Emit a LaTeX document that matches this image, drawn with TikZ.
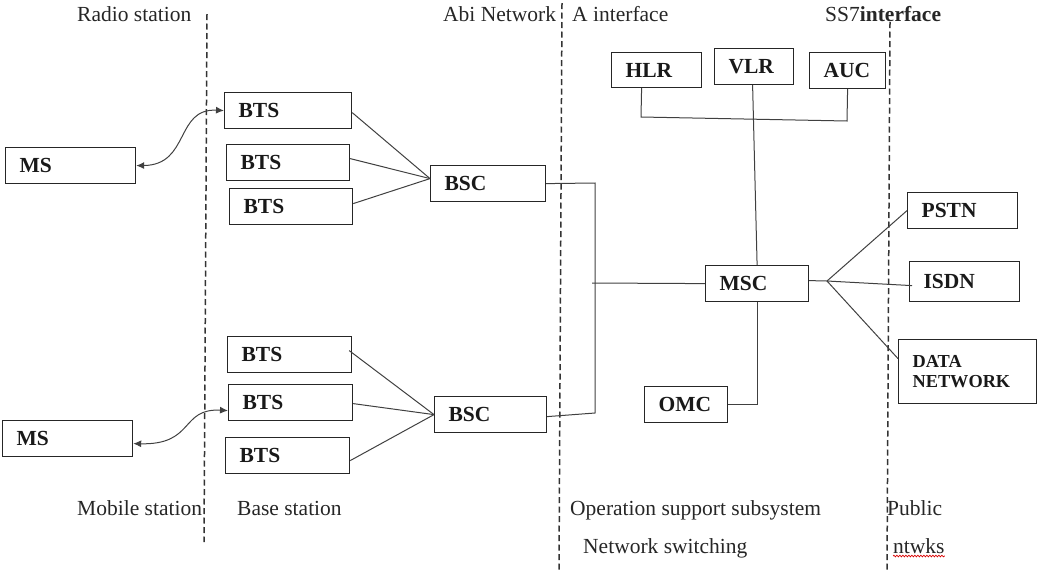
\documentclass[tikz,border=0pt]{standalone}
\usepackage{fontspec}
\setmainfont{Liberation Serif}
\usetikzlibrary{arrows.meta,decorations.pathmorphing}
\begin{document}
\begin{tikzpicture}[x=1pt,y=-1pt,
  box/.style={draw=black!85, line width=1.2pt, anchor=north west, inner xsep=14pt,
    inner ysep=0pt, align=left, font=\fontsize{21.5}{24}\selectfont\bfseries, text=black!90},
  link/.style={draw=black!75, line width=1pt},
  radio/.style={link, {Latex[length=8pt,width=7pt]}-{Latex[length=8pt,width=7pt]}},
  divider/.style={draw=black!80, line width=1.5pt, dash pattern=on 6pt off 3.5pt},
  caption/.style={font=\fontsize{21.5}{24}\selectfont, text=black!85, inner sep=0pt, anchor=base west}
]
\useasboundingbox (0,0) rectangle (1038,571);

% zone dividers
\draw[divider] (207,14) -- (204,542);
\draw[divider] (562,3) -- (559,571);
\draw[divider] (890,22) -- (887,571);

% zone captions
\node[caption] (tRadio)  at (77,21)  {Radio station};
\node[caption] (tAbi)    at (443,21) {Abi Network};
\node[caption] (tA)      at (572,21) {A interface};
\node[caption] (tSS7)    at (825,21) {SS7\textbf{interface}};
\node[caption] (tMobile) at (77,515) {Mobile station};
\node[caption] (tBase)   at (237,515) {Base station};
\node[caption] (tOSS)    at (570,515) {Operation support subsystem};
\node[caption] (tNSS)    at (583,553) {Network switching};
\node[caption] (tPublic) at (887,515) {Public};
\node[caption] (tNtwks)  at (893,553) {ntwks};
\draw[red!85!black, line width=0.7pt, decorate,
      decoration={snake, amplitude=0.8pt, segment length=3pt}]
  ([yshift=-3pt]tNtwks.base west) -- ([yshift=-3pt]tNtwks.base east);

% mobile stations
\node[box, text width=102pt, minimum height=36pt] (MS1) at (5,147) {MS};
\node[box, text width=102pt, minimum height=36pt] (MS2) at (2,420) {MS};

% base transceiver stations
\node[box, text width=99pt, minimum height=36pt] (BTS1) at (224,92)  {BTS};
\node[box, text width=95pt, minimum height=36pt] (BTS2) at (226,144) {BTS};
\node[box, text width=95pt, minimum height=36pt] (BTS3) at (229,188) {BTS};
\node[box, text width=96pt, minimum height=36pt] (BTS4) at (227,336) {BTS};
\node[box, text width=96pt, minimum height=36pt] (BTS5) at (228,384) {BTS};
\node[box, text width=96pt, minimum height=36pt] (BTS6) at (225,437) {BTS};

% base station controllers
\node[box, text width=87pt, minimum height=36pt] (BSC1) at (430,165) {BSC};
\node[box, text width=84pt, minimum height=36pt] (BSC2) at (434,396) {BSC};

% switching subsystem
\node[box, text width=62pt, minimum height=35pt] (HLR) at (611,52) {HLR};
\node[box, text width=51pt, minimum height=36pt] (VLR) at (714,48) {VLR};
\node[box, text width=48pt, minimum height=36pt] (AUC) at (809,52) {AUC};
\node[box, text width=75pt, minimum height=36pt] (MSC) at (705,265) {MSC};
\node[box, text width=55pt, minimum height=36pt] (OMC) at (644,386) {OMC};

% public networks
\node[box, text width=82pt, minimum height=36pt] (PSTN) at (907,192) {PSTN};
\node[box, text width=82pt, minimum height=40pt] (ISDN) at (909,261) {ISDN};
\node[box, text width=110pt, minimum height=64pt,
      font=\fontsize{18.3}{20}\selectfont\bfseries] (DATA) at (898,339) {DATA\\NETWORK};

% radio links
\draw[radio] (MS1.east) .. controls (190,165) and (175,108) .. (BTS1.west);
\draw[radio] ([yshift=-5pt]MS2.east) .. controls (195,445) and (180,408) .. ([yshift=-8pt]BTS5.west);

% BTS to BSC
\coordinate (inA) at ([yshift=5pt]BSC1.west);
\draw[link] ([yshift=-2pt]BTS1.east) -- (inA);
\draw[link] ([yshift=4pt]BTS2.east)  -- (inA);
\draw[link] ([yshift=3pt]BTS3.east)  -- (inA);
\coordinate (inB) at (BSC2.west);
\draw[link] ([xshift=-3pt,yshift=4pt]BTS4.east) -- (inB);
\draw[link] ([yshift=-1pt]BTS5.east) -- (inB);
\draw[link] ([yshift=-5pt]BTS6.east) -- (inB);

% BSCs to MSC
\coordinate (busTop) at (595,183);
\coordinate (busBot) at (595,413);
\coordinate (busMid) at (592,283);
\draw[link] (BSC1.east) -- (busTop) -- (busBot) -- ([yshift=-2pt]BSC2.east);
\draw[link] (busMid) -- (MSC.west);

% registers
\coordinate (regL) at (641,117);
\coordinate (regR) at (847,121);
\draw[link] ([xshift=-15pt]HLR.south) -- (regL) -- (regR) -- (AUC.south);
\draw[link] ([xshift=-1.5pt]VLR.south) -- (MSC.north);

% MSC to OMC
\draw[link] (MSC.south) |- (OMC.east);

% MSC to public networks
\coordinate (fan) at (827,281);
\draw[link] ([yshift=3pt]MSC.east) -- (fan);
\draw[link] (fan) -- (PSTN.west);
\draw[link] (fan) -- ([xshift=3pt,yshift=-4pt]ISDN.west);
\draw[link] (fan) -- ([yshift=13pt]DATA.west);
\end{tikzpicture}
\end{document}
